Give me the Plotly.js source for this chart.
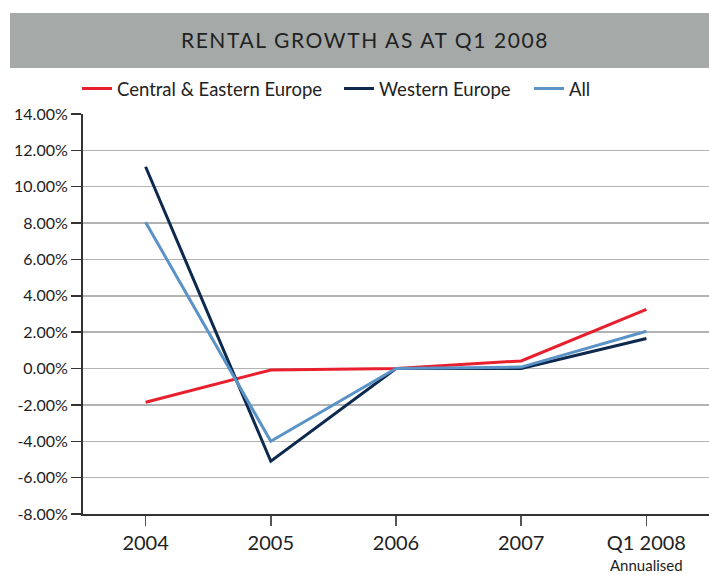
<!DOCTYPE html>
<html>
<head>
<meta charset="utf-8">
<script src="https://cdn.plot.ly/plotly-3.0.1.min.js"></script>
<style>
html,body{margin:0;padding:0;background:#fff;}
#chart{width:709px;height:575px;}
#chart .gtitle{letter-spacing:1.6px;}
</style>
</head>
<body>
<div id="chart"></div>
<script>
const categories = ["2004", "2005", "2006", "2007", "Q1 2008"];
const categoryNote = "Annualised";
const centralEastern = [-1.85, -0.08, 0.0, 0.42, 3.25];
const western = [11.1, -5.1, 0.0, 0.0, 1.65];
const allEurope = [8.05, -4.0, 0.0, 0.08, 2.05];
const yTickVals = [-8, -6, -4, -2, 0, 2, 4, 6, 8, 10, 12, 14];
const yTickText = ["-8.00%", "-6.00%", "-4.00%", "-2.00%", "0.00%", "2.00%", "4.00%", "6.00%", "8.00%", "10.00%", "12.00%", "14.00%"];

const font = "Lato, 'Open Sans', sans-serif";
const legendFont = {family: font, size: 18.5, color: "#222"};
const traces = [
  {x: categories, y: centralEastern, name: "Central & Eastern Europe", legend: "legend", type: "scatter", mode: "lines", line: {color: "#e8202e", width: 3}},
  {x: categories, y: western, name: "Western Europe", legend: "legend2", type: "scatter", mode: "lines", line: {color: "#0d2a4e", width: 3}},
  {x: categories, y: allEurope, name: "All", legend: "legend3", type: "scatter", mode: "lines", line: {color: "#5b93c7", width: 3}}
];

const legendY = (514 - 89) / 400;
const layout = {
  width: 709, height: 575,
  margin: {l: 83, r: 0, t: 114, b: 61},
  paper_bgcolor: "#fff", plot_bgcolor: "#fff",
  font: {family: font, color: "#222"},
  title: {text: "RENTAL GROWTH AS AT Q1 2008", font: {family: font, size: 21, color: "#222"}, x: 365 / 709, xanchor: "center", y: 1 - 41/575, yanchor: "middle"},
  showlegend: true,
  legend: {orientation: "h", x: (77 - 83) / 626, xanchor: "left", y: legendY, yanchor: "middle", font: legendFont, itemwidth: 30},
  legend2: {orientation: "h", x: (339 - 83) / 626, xanchor: "left", y: legendY, yanchor: "middle", font: legendFont, itemwidth: 30},
  legend3: {orientation: "h", x: (529 - 83) / 626, xanchor: "left", y: legendY, yanchor: "middle", font: legendFont, itemwidth: 30},
  xaxis: {
    type: "category",
    showgrid: false, zeroline: false,
    showline: true, linecolor: "#333", linewidth: 2,
    ticks: "outside", ticklen: 10, tickwidth: 1.5, tickcolor: "#555",
    tickfont: {family: font, size: 20, color: "#222"},
    range: [-0.5, 4.5], fixedrange: true
  },
  yaxis: {
    range: [-8, 14],
    tickvals: yTickVals, ticktext: yTickText,
    showgrid: true, gridcolor: "#b3b3b3", gridwidth: 1.5,
    zeroline: false,
    showline: true, linecolor: "#333", linewidth: 2,
    ticks: "outside", ticklen: 10, tickwidth: 1.5, tickcolor: "#333",
    tickfont: {family: font, size: 16, color: "#222"},
    fixedrange: true
  },
  annotations: [
    {text: categoryNote, x: categories[categories.length - 1], xref: "x", yref: "paper", y: (514 - 565) / 400, yanchor: "middle", xanchor: "center", showarrow: false, font: {family: font, size: 15, color: "#222"}}
  ],
  shapes: [
    {type: "rect", xref: "paper", yref: "paper", x0: (10 - 83) / 626, x1: 1, y0: (514 - 68) / 400, y1: (514 - 13) / 400, fillcolor: "#a5aaa9", line: {width: 0}, layer: "below"}
  ]
};

Plotly.newPlot("chart", traces, layout, {displayModeBar: false, staticPlot: true});
</script>
</body>
</html>
